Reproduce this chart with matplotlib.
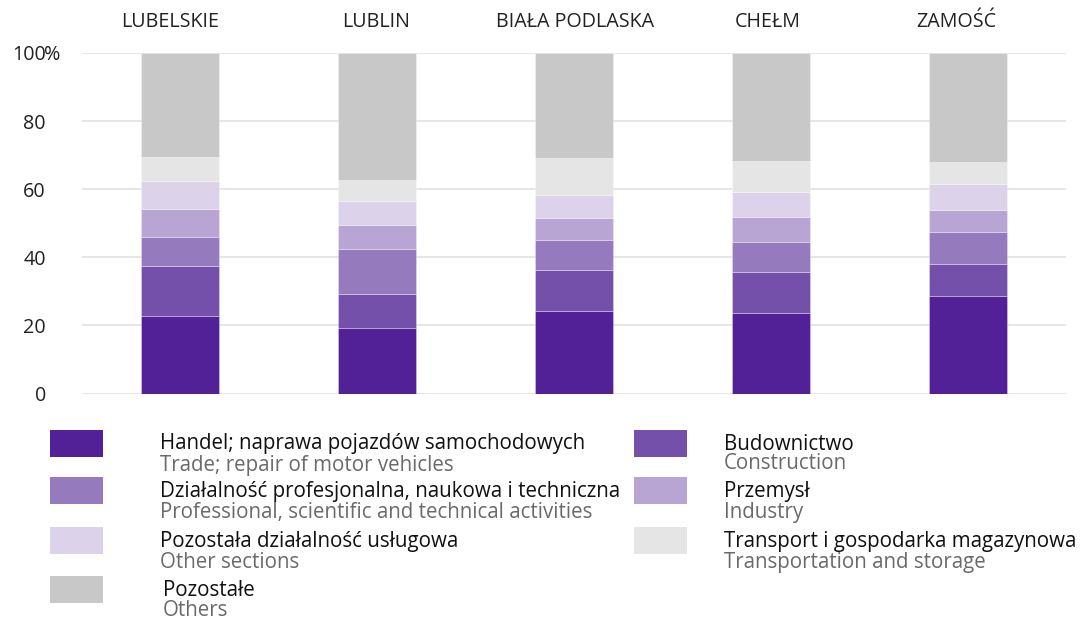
import matplotlib
matplotlib.use("Agg")
import matplotlib.pyplot as plt
from matplotlib.patches import Rectangle
import numpy as np

plt.rcParams["font.family"] = ["Open Sans", "DejaVu Sans"]

regions = ["LUBELSKIE", "LUBLIN", "BIAŁA PODLASKA", "CHEŁM", "ZAMOŚĆ"]

# shares of units by section, % (bottom to top of each bar)
handel = [22.9, 19.3, 24.3, 23.5, 28.5]
budownictwo = [14.5, 9.9, 11.9, 12.2, 9.4]
profesjonalna = [8.6, 13.3, 8.9, 8.7, 9.4]
przemysl = [8.2, 7.0, 6.5, 7.4, 6.6]
uslugowa = [8.1, 6.9, 6.6, 7.4, 7.6]
transport = [7.1, 6.2, 11.0, 9.1, 6.5]
pozostale = [30.6, 37.4, 30.8, 31.7, 32.0]

series = [
    ("Handel; naprawa pojazdów samochodowych", "Trade; repair of motor vehicles", handel, "#522197"),
    ("Budownictwo", "Construction", budownictwo, "#7550AA"),
    ("Działalność profesjonalna, naukowa i techniczna",
     "Professional, scientific and technical activities", profesjonalna, "#957BBD"),
    ("Przemysł", "Industry", przemysl, "#B9A5D4"),
    ("Pozostała działalność usługowa", "Other sections", uslugowa, "#DCD2EA"),
    ("Transport i gospodarka magazynowa", "Transportation and storage", transport, "#E5E5E5"),
    ("Pozostałe", "Others", pozostale, "#C8C8C8"),
]

FS = 14.2
LFS = 14.8
W, H = 1080, 621
fig = plt.figure(figsize=(W / 100, H / 100), dpi=100)
ax = fig.add_axes([82 / W, 1 - 393.5 / H, (1066 - 82) / W, (393.5 - 53) / H])

x = np.arange(len(regions))
bottom = np.zeros(len(regions))
for pl, en, vals, color in series:
    ax.bar(x, vals, bottom=bottom, width=0.396, color=color,
           edgecolor=(1, 1, 1, 0.35), linewidth=0.6, zorder=3)
    bottom += np.array(vals)

ax.set_xlim(-0.5, len(regions) - 0.5)
ax.set_ylim(0, 100)
for s in ax.spines.values():
    s.set_visible(False)

ax.set_yticks([0, 20, 40, 60, 80, 100])
ax.set_yticklabels(["0", "20", "40", "60", "80", "100"])
ax.tick_params(axis="y", length=0, pad=26, labelsize=FS, labelcolor="#222222")
ax.yaxis.grid(True, color="#E2E2E2", linewidth=1.2, zorder=0)
ax.set_xticks([])

# region names above the bars (nudged a few px like the original layout)
nudge_px = [-10, -1, 1.5, -3, -11]
for xi, name, dx in zip(x, regions, nudge_px):
    ax.annotate(name, xy=(xi, 1), xycoords=("data", "axes fraction"),
                xytext=(dx * 0.72, 22.5), textcoords="offset points",
                ha="center", va="center", fontsize=FS, color="#222222")

# percent sign hangs off the top tick label
fig.canvas.draw()
top_label = ax.get_yticklabels()[-1]
ax.annotate("%", xy=(1, 0.5), xycoords=top_label, xytext=(-1.5, 0),
            textcoords="offset points", va="center", ha="left",
            fontsize=FS, color="#222222")


def px(xp, yp):
    return xp / W, 1 - yp / H


def legend_item(sx, tx, ytop, pl, en, color, en_dy=35.5):
    fig.add_artist(Rectangle(px(sx, ytop + 27), 53 / W, 27 / H,
                             transform=fig.transFigure, color=color, lw=0))
    fig.text(*px(tx, ytop + 14), pl, fontsize=LFS, color="#111111", va="center")
    fig.text(*px(tx, ytop + en_dy), en, fontsize=LFS, color="#6A6A6A", va="center")


left_rows = [0, 2, 4, 6]
right_rows = [1, 3, 5]
row_tops = [430, 477, 527, 576]
for i, top in zip(left_rows, row_tops):
    pl, en, _, color = series[i]
    if i == 6:
        legend_item(50, 163, top, pl, en, color, en_dy=34)
    else:
        legend_item(50, 160, top, pl, en, color)
for i, top in zip(right_rows, row_tops[:3]):
    pl, en, _, color = series[i]
    legend_item(634, 724, top, pl, en, color, en_dy=33.5 if i == 1 else 35.5)

fig.savefig("out.png", dpi=100, facecolor="white")
